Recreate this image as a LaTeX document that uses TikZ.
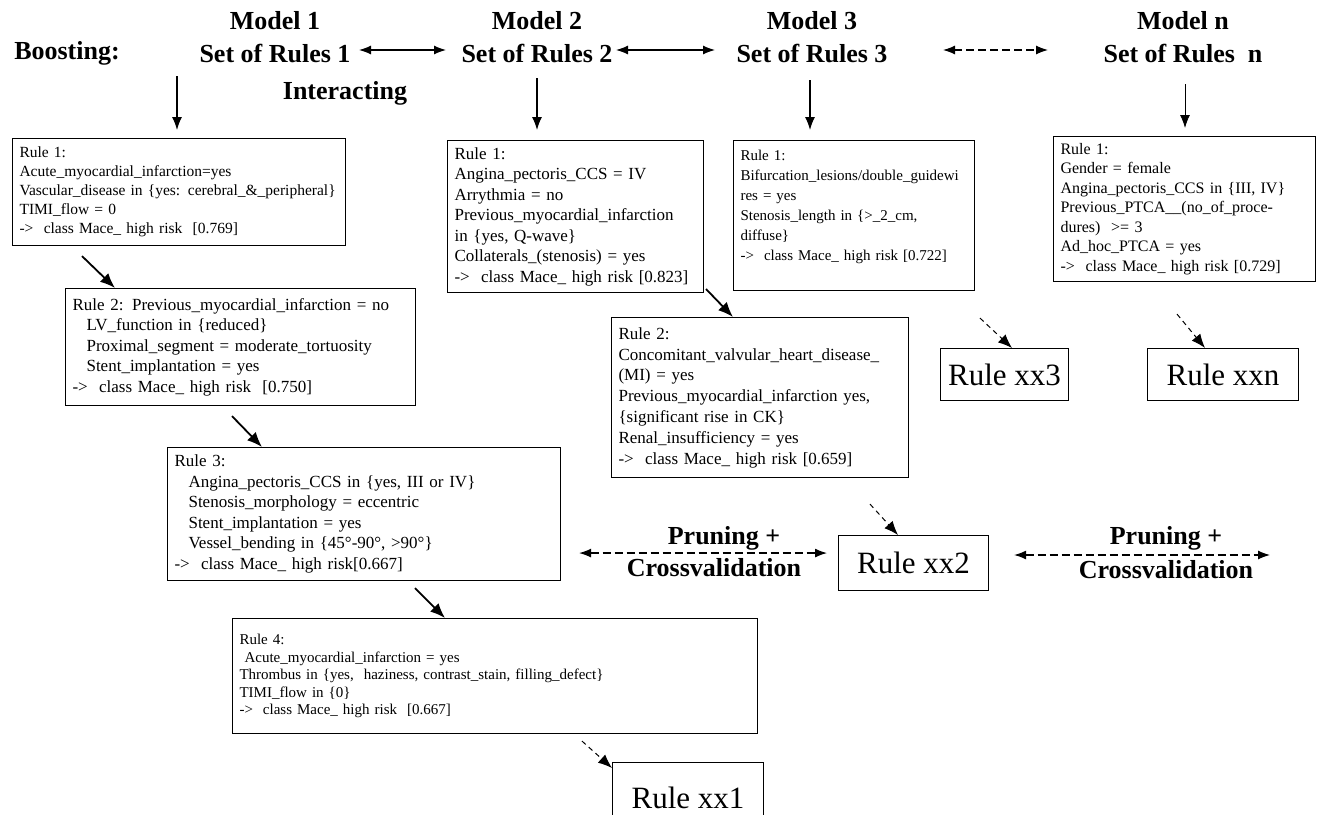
\documentclass[tikz,border=0pt]{standalone}
\usepackage{fontspec}
\setmainfont{Liberation Serif}
\usetikzlibrary{arrows.meta,positioning}
\tikzset{
  rulebox/.style={draw, line width=1.1pt, anchor=north west, align=left, inner xsep=7pt, inner ysep=5pt, font=\fontsize{17}{20.5}\selectfont},
  bigrule/.style={draw, line width=1.1pt, anchor=north west, font=\fontsize{31}{34}\selectfont, inner sep=0pt},
  title/.style={font=\fontsize{26}{33}\selectfont\bfseries, align=center},
  arrow/.style={line width=1.2pt, -{Latex[length=13pt,width=10pt]}},
  diag/.style={line width=1.8pt, -{Latex[length=15pt,width=12pt]}},
  dasharrow/.style={line width=1pt, dashed, dash pattern=on 5pt off 4pt, -{Latex[length=14pt,width=11pt]}},
  twoway/.style={line width=1.2pt, {Latex[length=12pt,width=9pt]}-{Latex[length=12pt,width=9pt]}},
  twodash/.style={twoway, dash pattern=on 8pt off 4pt},
}
\newcommand{\ind}{\hspace*{14pt}}
\begin{document}
\begin{tikzpicture}[x=1pt, y=-1pt]
\path[use as bounding box, fill=white] (0,0) rectangle (1325,814);

% Titles
\node[title] (boost) at (67,53) {Boosting:};
\node[title] (t1) at (275,37) {Model 1\\Set of Rules 1};
\node[title] (t2) at (537,37) {Model 2\\Set of Rules 2};
\node[title] (t3) at (812,37) {Model 3\\Set of Rules 3};
\node[title] (tn) at (1183,37) {Model n\\Set of Rules\ \ n};
\node[title] (inter) at (345,93) {Interacting};

% Interaction arrows
\draw[twoway] ([shift={(5pt,-13pt)}]t1.east) -- ([shift={(-12pt,-13pt)}]t2.west);
\draw[twoway] ([shift={(0pt,-13pt)}]t2.east) -- ([shift={(-18pt,-13pt)}]t3.west);
\draw[twodash] ([shift={(52pt,-13pt)}]t3.east) -- ([shift={(-52pt,-13pt)}]tn.west);

% Model 1
\node[rulebox, text width=319pt, minimum height=107pt, font=\fontsize{15.5}{19}\selectfont] (r11) at (12,138)
  {Rule 1:\\Acute\_myocardial\_infarction=yes\\Vascular\_disease in \{yes: cerebral\_\&\_peripheral\}\\TIMI\_flow = 0\\->\ \ class Mace\_ high risk\ \ [0.769]};
\node[rulebox, text width=336pt, minimum height=117pt] (r12) at (65,288)
  {Rule 2: Previous\_myocardial\_infarction = no\\\ind LV\_function in \{reduced\}\\\ind Proximal\_segment = moderate\_tortuosity\\\ind Stent\_implantation = yes\\->\ \ class Mace\_ high risk\ \ [0.750]};
\node[rulebox, text width=379pt, minimum height=133pt] (r13) at (167,447)
  {Rule 3:\\\ind Angina\_pectoris\_CCS in \{yes, III or IV\}\\\ind Stenosis\_morphology = eccentric\\\ind Stent\_implantation = yes\\\ind Vessel\_bending in \{45°-90°, >90°\}\\->\ \ class Mace\_ high risk[0.667]};
\node[rulebox, text width=511pt, minimum height=115pt, font=\fontsize{15}{17.5}\selectfont] (r14) at (232,618)
  {Rule 4:\\\ Acute\_myocardial\_infarction = yes\\Thrombus in \{yes,\ \ haziness, contrast\_stain, filling\_defect\}\\TIMI\_flow in \{0\}\\->\ \ class Mace\_ high risk\ \ [0.667]};
\node[bigrule, minimum width=151pt, minimum height=70pt] (xx1) at (612,762) {Rule xx1};

% Model 2
\node[rulebox, text width=242pt, minimum height=152pt] (r21) at (447,140)
  {Rule 1:\\Angina\_pectoris\_CCS = IV\\Arrythmia = no\\Previous\_myocardial\_infarction\\in \{yes, Q-wave\}\\Collaterals\_(stenosis) = yes\\->\ \ class Mace\_ high risk [0.823]};
\node[rulebox, text width=283pt, minimum height=160pt, font=\fontsize{17}{20.8}\selectfont] (r22) at (611,317)
  {Rule 2:\\Concomitant\_valvular\_heart\_disease\_\\(MI) = yes\\Previous\_myocardial\_infarction yes,\\\{significant rise in CK\}\\Renal\_insufficiency = yes\\->\ \ class Mace\_ high risk [0.659]};
\node[bigrule, minimum width=150pt, minimum height=55pt] (xx2) at (838,535) {Rule xx2};

% Model 3
\node[rulebox, text width=227pt, minimum height=150pt, font=\fontsize{15}{20}\selectfont] (r31) at (733,140)
  {Rule 1:\\Bifurcation\_lesions/double\_guidewi\\res = yes\\Stenosis\_length in \{>\_2\_cm,\\diffuse\}\\->\ \ class Mace\_ high risk [0.722]\\\mbox{}};
\node[bigrule, minimum width=128pt, minimum height=52pt] (xx3) at (940,348) {Rule xx3};

% Model n
\node[rulebox, text width=248pt, minimum height=145pt, font=\fontsize{16}{19.5}\selectfont] (rn1) at (1053,136)
  {Rule 1:\\Gender = female\\Angina\_pectoris\_CCS in \{III, IV\}\\Previous\_PTCA\_\_(no\_of\_proce-\\dures)\ \ >= 3\\Ad\_hoc\_PTCA = yes\\->\ \ class Mace\_ high risk [0.729]};
\node[bigrule, minimum width=151pt, minimum height=52pt] (xxn) at (1147,348) {Rule xxn};

% Arrows from the sets down to the first rules
\coordinate (d1) at (177,76);
\coordinate (d2) at (537,78);
\coordinate (d3) at (810,80);
\coordinate (dn) at (1185,84);
\draw[arrow, shorten >=8pt] (d1) -- (d1 |- r11.north);
\draw[arrow, shorten >=10pt] (d2) -- (d2 |- r21.north);
\draw[arrow, shorten >=10pt] (d3) -- (d3 |- r31.north);
\draw[arrow, line width=0.9pt, shorten >=8pt] (dn) -- (dn |- rn1.north);

% Rule to rule
\draw[diag] ([shift={(70pt,-10pt)}]r11.south west) -- ([xshift=50pt]r12.north west);
\draw[diag] ([shift={(167pt,-10pt)}]r12.south west) -- ([xshift=95pt]r13.north west);
\draw[diag] ([shift={(248pt,-7pt)}]r13.south west) -- ([xshift=213pt]r14.north west);
\draw[diag] ([shift={(2pt,4pt)}]r21.south east) -- ([xshift=122pt]r22.north west);

% Dashed arrows to the remaining rules
\draw[dasharrow] ([shift={(350pt,-7pt)}]r14.south west) -- ([yshift=-6pt]xx1.north west);
\draw[dasharrow] ([shift={(259pt,-26pt)}]r22.south west) -- ([xshift=60pt]xx2.north west);
\draw[dasharrow] ([shift={(247pt,-27pt)}]r31.south west) -- ([xshift=72pt]xx3.north west);
\draw[dasharrow] ([shift={(124pt,-32pt)}]rn1.south west) -- ([xshift=58pt]xxn.north west);

% Pruning + Crossvalidation
\coordinate (cvl) at ([yshift=10pt]xx2.west);
\coordinate (cvr) at (1270,555);
\draw[twodash] ([xshift=18pt]r13.east |- cvl) -- ([xshift=-11pt]cvl);
\draw[twodash] ([xshift=25pt]xx2.east |- cvr) -- (cvr);
\node[title] (p1) at (724,538) {Pruning +};
\node[title] (c1) at (714,568) {Crossvalidation};
\node[title] (p2) at (1166,538) {Pruning +};
\node[title] (c2) at (1166,570) {Crossvalidation};
\end{tikzpicture}
\end{document}
